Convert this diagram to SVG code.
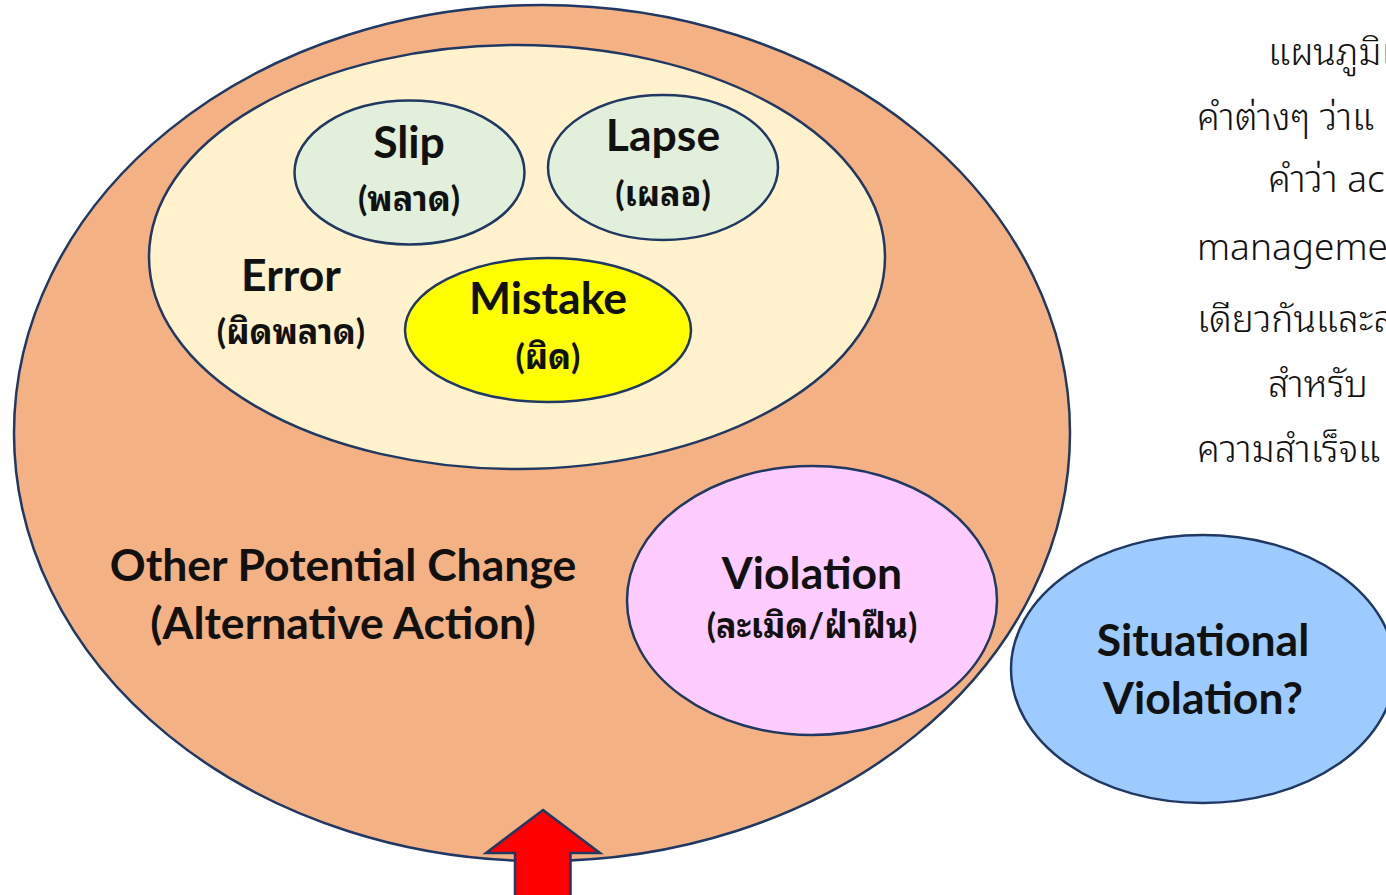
<svg xmlns="http://www.w3.org/2000/svg" width="1386" height="895" viewBox="0 0 1386 895">
<style>
.sh{stroke:#1F3864;stroke-width:2.5}
.lb{font-family:Lato,"Noto Sans","Noto Sans Thai Looped","Noto Sans Thai",sans-serif;font-weight:bold;fill:#111;text-anchor:middle}
.big{font-size:44.5px}
.sm{font-size:34px}
.para{font-family:"Noto Sans","Noto Sans Thai Looped","Noto Sans Thai",sans-serif;font-weight:300;font-size:37px;fill:#111}
</style>
<rect width="1386" height="895" fill="#fff"/>
<g id="outer">
<ellipse class="sh" cx="542" cy="433" rx="528" ry="428" fill="#F4B183"/>
<text class="lb big" x="343" y="581">Other Potential Change</text>
<text class="lb big" x="343" y="639">(Alternative Action)</text>
</g>
<g id="error">
<ellipse class="sh" cx="517" cy="257" rx="368" ry="212" fill="#FFF2CC"/>
<text class="lb big" x="291" y="291">Error</text>
<text class="lb sm" x="291" y="344">(ผิดพลาด)</text>
</g>
<g id="slip">
<ellipse class="sh" cx="409.5" cy="172.5" rx="115" ry="72" fill="#E2EFDA"/>
<text class="lb big" x="409" y="158">Slip</text>
<text class="lb sm" x="409" y="211">(พลาด)</text>
</g>
<g id="lapse">
<ellipse class="sh" cx="663" cy="167.5" rx="115" ry="72.5" fill="#E2EFDA"/>
<text class="lb big" x="663" y="151">Lapse</text>
<text class="lb sm" x="663" y="206">(เผลอ)</text>
</g>
<g id="mistake">
<ellipse class="sh" cx="548" cy="330" rx="143" ry="72" fill="#FFFF00"/>
<text class="lb big" x="548" y="314">Mistake</text>
<text class="lb sm" x="548" y="369">(ผิด)</text>
</g>
<g id="violation">
<ellipse class="sh" cx="812" cy="600.5" rx="185" ry="134.5" fill="#FFCCFF"/>
<text class="lb big" x="812" y="589">Violation</text>
<text class="lb sm" x="812" y="638">(ละเมิด/ฝ่าฝืน)</text>
</g>
<g id="situational">
<ellipse class="sh" cx="1203" cy="669" rx="192" ry="134" fill="#9DCBFF"/>
<text class="lb big" x="1203" y="656">Situational</text>
<text class="lb big" x="1203" y="714">Violation?</text>
</g>
<g id="arrow">
<polygon class="sh" points="543,810 600,853 570.5,853 570.5,900 515,900 515,853 486,853" fill="#FF0000"/>
</g>
<g id="paragraph">
<text class="para" x="1268" y="65">แผนภูมิเ</text>
<text class="para" x="1197" y="130">คำต่างๆ ว่าแ</text>
<text class="para" x="1268" y="192">คำว่า ac</text>
<text class="para" x="1197" y="260">manageme</text>
<text class="para" x="1197" y="332">เดียวกันและส</text>
<text class="para" x="1268" y="397">สำหรับ</text>
<text class="para" x="1197" y="462">ความสำเร็จแ</text>
</g>
</svg>
